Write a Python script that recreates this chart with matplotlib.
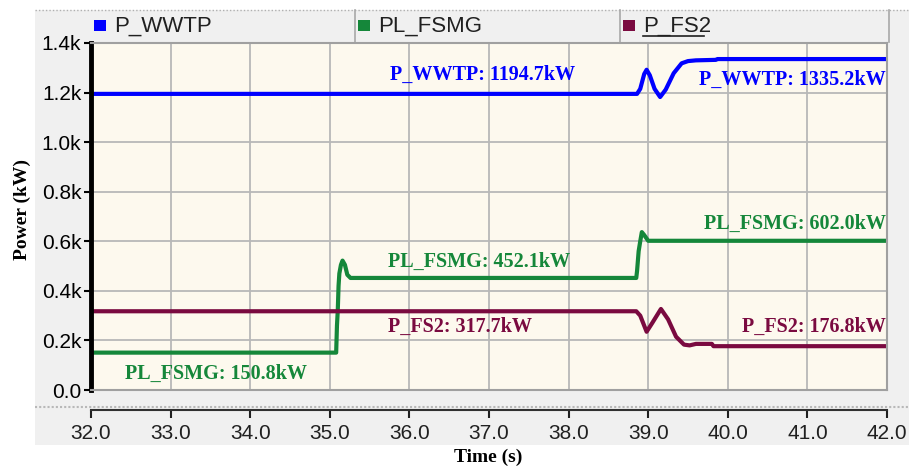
import matplotlib
matplotlib.use("Agg")
import matplotlib.pyplot as plt
from matplotlib.patches import Rectangle

W, H = 909, 468

# ---- data (kW over time in s) ----
t_wwtp = [32.0, 38.86, 38.90, 38.95, 38.98, 39.02, 39.08, 39.15, 39.22, 39.32,
          39.42, 39.50, 39.60, 39.85, 39.87, 42.0]
p_wwtp = [1194.7, 1194.7, 1215, 1275, 1292, 1270, 1215, 1182, 1212, 1278,
          1318, 1327, 1330, 1332, 1335.2, 1335.2]

t_fsmg = [32.0, 35.08, 35.09, 35.10, 35.11, 35.12, 35.14, 35.16, 35.19, 35.22, 35.26,
          38.85, 38.86, 38.88, 38.90, 38.92, 38.95, 39.0, 42.0]
p_fsmg = [150.8, 150.8, 260, 320, 420, 470, 505, 522, 505, 465, 452.1,
          452.1, 480, 560, 600, 637, 625, 602.0, 602.0]

t_fs2 = [32.0, 38.85, 38.90, 38.98, 39.05, 39.16, 39.25, 39.35, 39.45, 39.52,
         39.60, 39.80, 39.82, 42.0]
p_fs2 = [317.7, 317.7, 300, 235, 270, 327, 285, 215, 183, 180,
         186, 186, 176.8, 176.8]

names = ["P_WWTP", "PL_FSMG", "P_FS2"]
colors = ["#0000ff", "#15873a", "#7a0a40"]

ytick_vals = [0, 200, 400, 600, 800, 1000, 1200, 1400]
ytick_labels = ["0.0", "0.2k", "0.4k", "0.6k", "0.8k", "1.0k", "1.2k", "1.4k"]
xtick_vals = [32, 33, 34, 35, 36, 37, 38, 39, 40, 41, 42]
xtick_labels = ["32.0", "33.0", "34.0", "35.0", "36.0", "37.0", "38.0",
                "39.0", "40.0", "41.0", "42.0"]

# label text, x, y, ha, series index
notes = [
    ("P_WWTP: 1194.7kW", 35.76, 1270, "left", 0),
    ("P_WWTP: 1335.2kW", 41.99, 1250, "right", 0),
    ("PL_FSMG: 602.0kW", 41.99, 669, "right", 1),
    ("PL_FSMG: 452.1kW", 35.73, 516, "left", 1),
    ("PL_FSMG: 150.8kW", 32.43, 65, "left", 1),
    ("P_FS2: 317.7kW", 35.73, 254, "left", 2),
    ("P_FS2: 176.8kW", 41.99, 254, "right", 2),
]

sans = "Liberation Sans"
serif = "Liberation Serif"

fig = plt.figure(figsize=(W / 100, H / 100), dpi=100)


def px(x0, y0, x1, y1):
    return [x0 / W, 1 - y1 / H, (x1 - x0) / W, (y1 - y0) / H]


# background panel drawn in pixel coords
bg = fig.add_axes([0, 0, 1, 1], zorder=0)
bg.set_xlim(0, W)
bg.set_ylim(H, 0)
bg.axis("off")
bg.add_patch(Rectangle((35, 10), 874, 435, color="#f0f0f0", lw=0))
bg.plot([35, 909], [10, 10], ls=(0, (1, 1.5)), color="#b0b0b0", lw=1)
bg.plot([35, 909], [407, 407], ls=(0, (1, 1)), color="#b8b8b8", lw=1.5)
cells = [91, 355, 620, 889]
for x in cells[1:]:
    bg.plot([x, x], [10, 42], color="#a8a8a8", lw=1.2)
for i, name in enumerate(names):
    x = cells[i]
    bg.add_patch(Rectangle((x + 3, 20), 12, 11, color=colors[i], lw=0))
    bg.text(x + 23, 26, name, fontsize=16, family=sans, color="#202020",
            va="center", ha="left")
bg.plot([643, 704], [36, 36], color="#202020", lw=1.2)

# main plot
ax = fig.add_axes(px(91, 43, 887, 390), zorder=2)
ax.set_facecolor("#fdf9ee")
ax.plot(t_wwtp, p_wwtp, color=colors[0], lw=3)
ax.plot(t_fsmg, p_fsmg, color=colors[1], lw=3)
ax.plot(t_fs2, p_fs2, color=colors[2], lw=3)
ax.set_xlim(32, 42)
ax.set_ylim(0, 1400)
ax.set_xticks(xtick_vals)
ax.tick_params(axis="x", length=0, labelbottom=False)
ax.set_yticks(ytick_vals)
ax.set_yticklabels(ytick_labels, family=sans, fontsize=15)
ax.tick_params(axis="y", direction="out", length=5, width=1.5, pad=2, colors="black")
ax.grid(color="#b8b8b8", lw=1.3)
ax.set_axisbelow(True)
for s in ["top", "right", "bottom"]:
    ax.spines[s].set_color("#a0a0a0")
    ax.spines[s].set_linewidth(1.5)
ax.spines["left"].set_color("black")
ax.spines["left"].set_linewidth(3.5)

for txt, x, y, ha, i in notes:
    ax.text(x, y, txt, color=colors[i], fontsize=14.5, family=serif,
            fontweight="bold", ha=ha, va="center")

# separate time axis strip
axx = fig.add_axes(px(91, 409, 887, 410), zorder=2)
axx.set_facecolor("none")
axx.set_xlim(32, 42)
axx.set_yticks([])
axx.set_xticks(xtick_vals)
axx.set_xticklabels(xtick_labels, family=sans, fontsize=15)
axx.tick_params(axis="x", direction="out", length=6, width=1.5, pad=4,
                colors="#202020")
for s in ["top", "right", "left"]:
    axx.spines[s].set_visible(False)
axx.spines["bottom"].set_color("#303030")
axx.spines["bottom"].set_linewidth(1.5)

fig.text(22 / W, 1 - 210 / H, "Power (kW)", rotation=90, family=serif,
         fontweight="bold", fontsize=14, ha="center", va="center")
fig.text(488 / W, 1 - 457 / H, "Time (s)", family=serif, fontweight="bold",
         fontsize=14, ha="center", va="center")

fig.savefig("out.png", dpi=100)
